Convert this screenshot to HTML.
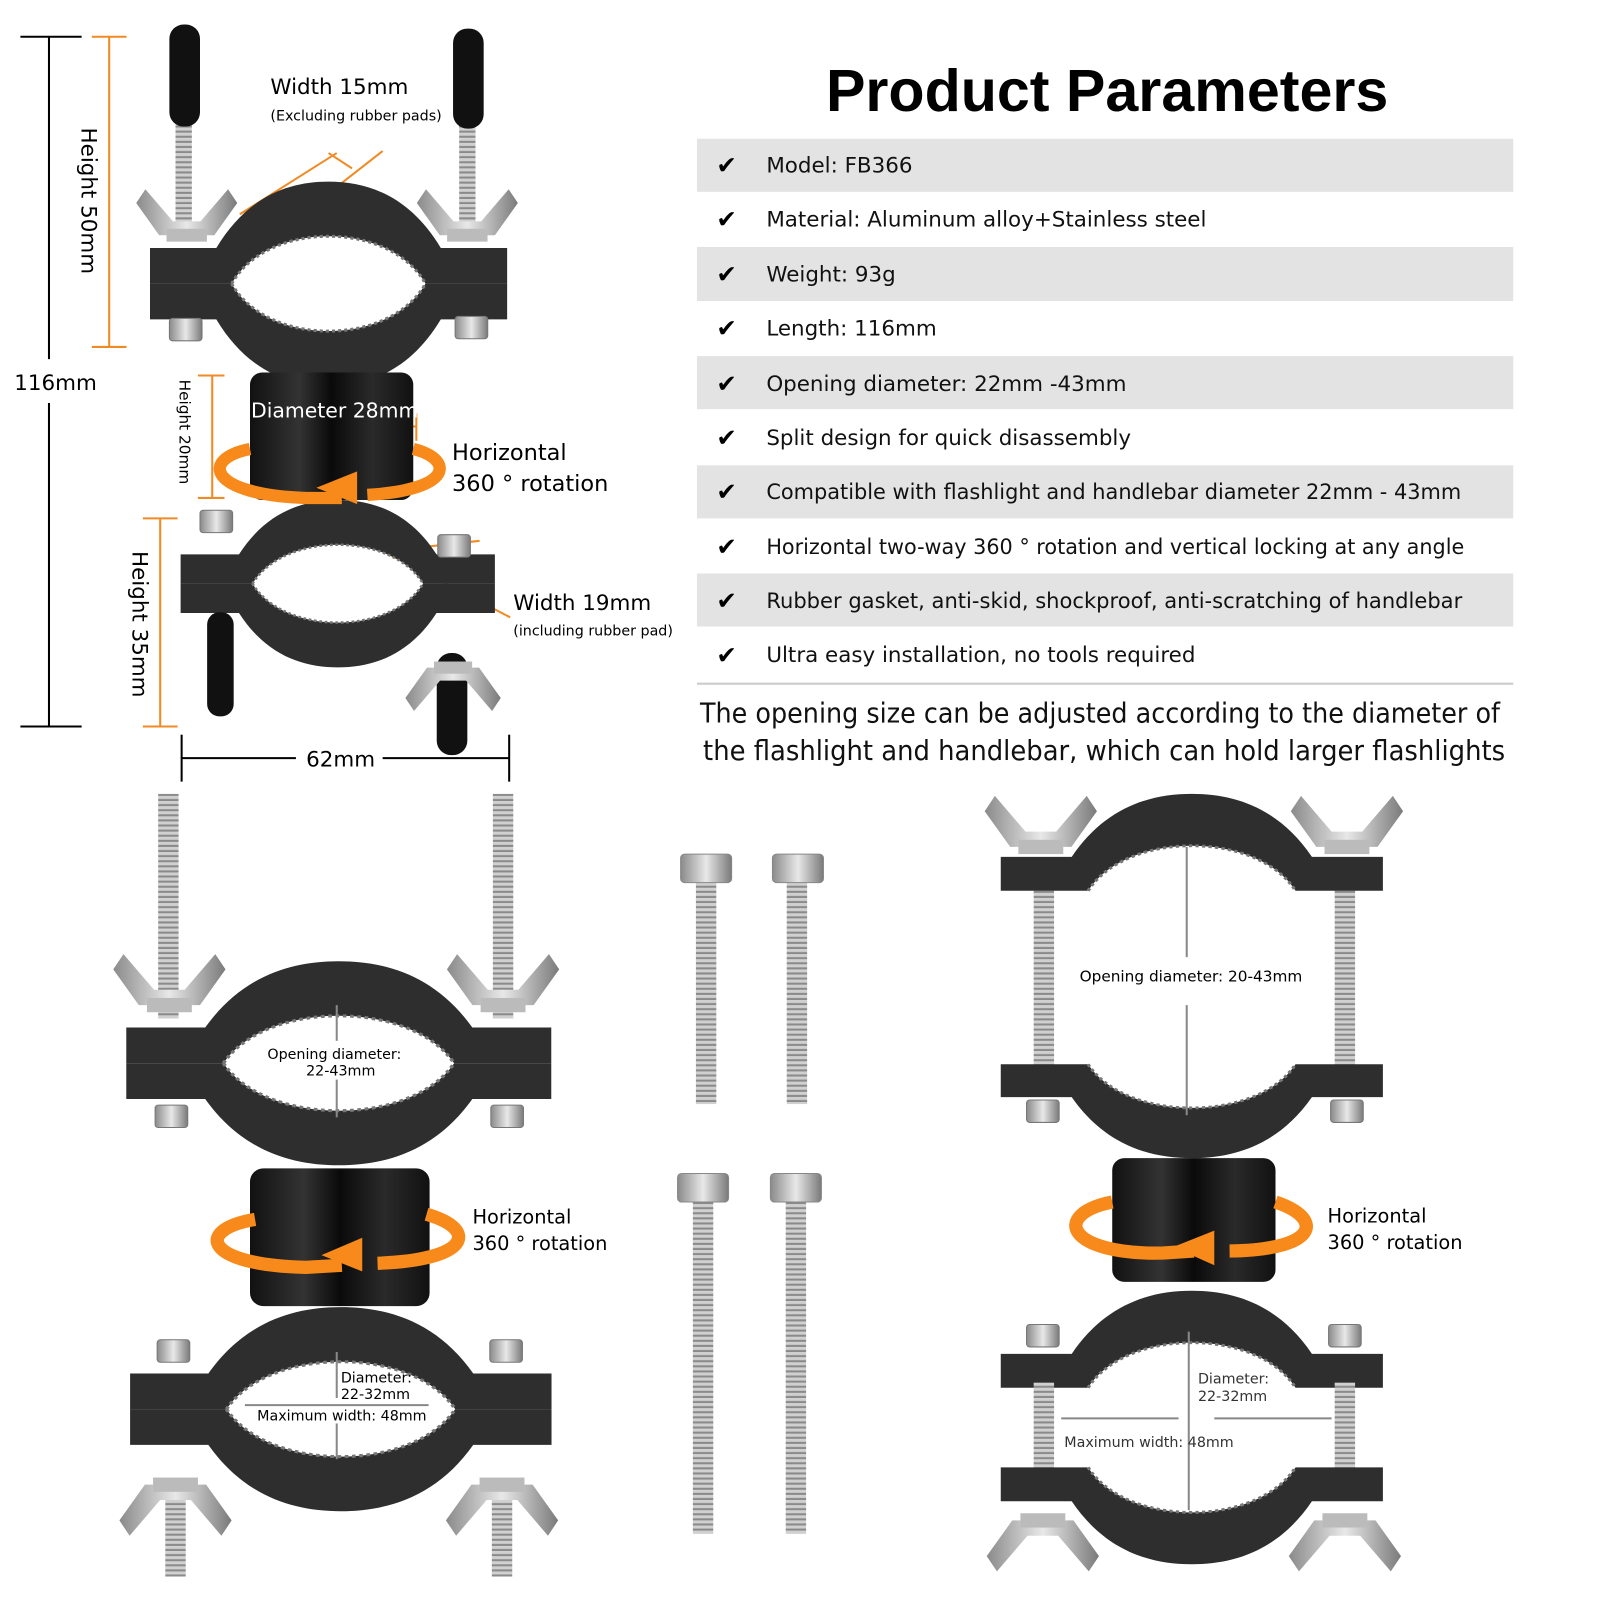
<!DOCTYPE html>
<html><head><meta charset="utf-8"><style>
html,body{margin:0;padding:0;background:#fff;}
svg{display:block;}
text{font-family:"DejaVu Sans","Liberation Sans",sans-serif;}
.lib{font-family:"Liberation Sans",sans-serif;}
</style></head><body>
<svg width="1600" height="1600" viewBox="0 0 1600 1600" xmlns="http://www.w3.org/2000/svg">
<defs>
<linearGradient id="met" x1="0" x2="1"><stop offset="0" stop-color="#8a8a8a"/><stop offset=".5" stop-color="#e8e8e8"/><stop offset="1" stop-color="#7a7a7a"/></linearGradient>
<pattern id="thr" width="8" height="5" patternUnits="userSpaceOnUse"><rect width="8" height="5" fill="#d0d0d0"/><rect y="3" width="8" height="2" fill="#8a8a8a"/></pattern>
<linearGradient id="cyl" x1="0" x2="1"><stop offset="0" stop-color="#111"/><stop offset=".3" stop-color="#333"/><stop offset=".5" stop-color="#0a0a0a"/><stop offset=".75" stop-color="#2a2a2a"/><stop offset="1" stop-color="#111"/></linearGradient>
<g id="up"><path fill-rule="evenodd" fill="#2e2e2e" d="M-175,-35 L-110,-35 C-80,-85 -40,-100 0,-100 C40,-100 80,-85 110,-35 L175,-35 L175,0 L-175,0 Z M-95,0 C-60,-62 60,-62 95,0 Z"/><path fill="none" stroke="#777" stroke-width="3" stroke-dasharray="3 3" d="M-95,0 C-60,-62 60,-62 95,0"/></g>
<g id="lo"><path fill-rule="evenodd" fill="#2e2e2e" d="M-175,35 L-110,35 C-80,85 -40,100 0,100 C40,100 80,85 110,35 L175,35 L175,0 L-175,0 Z M-95,0 C-60,62 60,62 95,0 Z"/><path fill="none" stroke="#777" stroke-width="3" stroke-dasharray="3 3" d="M-95,0 C-60,62 60,62 95,0"/></g>
<g id="wing"><path fill="url(#met)" d="M-55,-40 L-45,-55 L-15,-20 L15,-20 L45,-55 L55,-40 L30,-5 L-30,-5 Z"/><rect x="-22" y="-12" width="44" height="14" fill="#bbb"/></g>
<g id="head"><rect x="-16" y="0" width="32" height="22" rx="3" fill="url(#met)" stroke="#777"/></g>
<g id="cylA"><rect x="-80" y="0" width="160" height="125" rx="12" fill="url(#cyl)"/></g>
</defs>
<g transform="scale(1.0204)">
<!-- Title & table -->
<text class="lib" x="1085" y="109" font-size="58" font-weight="bold" text-anchor="middle" fill="#000">Product Parameters</text>
<g fill="#e3e3e3">
<rect x="683" y="136" width="800" height="52"/><rect x="683" y="242" width="800" height="53"/><rect x="683" y="349" width="800" height="52"/><rect x="683" y="456" width="800" height="52"/><rect x="683" y="562" width="800" height="52"/>
</g>
<line x1="683" y1="670" x2="1483" y2="670" stroke="#ccc" stroke-width="2"/>
<g font-size="21" fill="#111">
<text x="751" y="169">Model: FB366</text>
<text x="751" y="222">Material: Aluminum alloy+Stainless steel</text>
<text x="751" y="276">Weight: 93g</text>
<text x="751" y="329">Length: 116mm</text>
<text x="751" y="383">Opening diameter: 22mm -43mm</text>
<text x="751" y="436">Split design for quick disassembly</text>
<text x="751" y="489" textLength="681" lengthAdjust="spacingAndGlyphs">Compatible with flashlight and handlebar diameter 22mm - 43mm</text>
<text x="751" y="543" textLength="684" lengthAdjust="spacingAndGlyphs">Horizontal two-way 360 ° rotation and vertical locking at any angle</text>
<text x="751" y="596" textLength="682" lengthAdjust="spacingAndGlyphs">Rubber gasket, anti-skid, shockproof, anti-scratching of handlebar</text>
<text x="751" y="649">Ultra easy installation, no tools required</text>
</g>
<g font-size="24" fill="#000" font-weight="bold">
<text x="702" y="170">✔</text><text x="702" y="223">✔</text><text x="702" y="277">✔</text><text x="702" y="330">✔</text><text x="702" y="384">✔</text><text x="702" y="437">✔</text><text x="702" y="490">✔</text><text x="702" y="544">✔</text><text x="702" y="597">✔</text><text x="702" y="650">✔</text>
</g>
<g font-size="27" fill="#111">
<text x="686" y="708" textLength="784" lengthAdjust="spacingAndGlyphs">The opening size can be adjusted according to the diameter of</text>
<text x="689" y="745" textLength="786" lengthAdjust="spacingAndGlyphs">the flashlight and handlebar, which can hold larger flashlights</text>
</g>

<!-- Top-left dimension lines -->
<g stroke="#000" stroke-width="2" fill="none">
<line x1="20" y1="36" x2="80" y2="36"/><line x1="48" y1="36" x2="48" y2="352"/><line x1="48" y1="395" x2="48" y2="712"/><line x1="20" y1="712" x2="80" y2="712"/>
<line x1="178" y1="720" x2="178" y2="766"/><line x1="499" y1="720" x2="499" y2="766"/><line x1="178" y1="743" x2="290" y2="743"/><line x1="375" y1="743" x2="499" y2="743"/>
</g>
<text x="14" y="382" font-size="21">116mm</text>
<text x="300" y="751" font-size="21">62mm</text>
<g stroke="#f08a24" stroke-width="2" fill="none">
<line x1="90" y1="36" x2="124" y2="36"/><line x1="107" y1="36" x2="107" y2="340"/><line x1="90" y1="340" x2="124" y2="340"/>
<line x1="194" y1="368" x2="220" y2="368"/><line x1="208" y1="368" x2="208" y2="488"/><line x1="194" y1="488" x2="220" y2="488"/>
<line x1="140" y1="508" x2="174" y2="508"/><line x1="157" y1="508" x2="157" y2="712"/><line x1="140" y1="712" x2="174" y2="712"/>
<line x1="235" y1="210" x2="330" y2="150"/><line x1="270" y1="230" x2="375" y2="148"/><line x1="322" y1="150" x2="345" y2="165"/>
<line x1="360" y1="532" x2="500" y2="605"/><line x1="380" y1="540" x2="470" y2="530"/>
<line x1="246" y1="418" x2="408" y2="418"/><line x1="246" y1="405" x2="246" y2="432"/><line x1="408" y1="405" x2="408" y2="432"/>
</g>
<text transform="translate(80,125) rotate(90)" font-size="21">Height 50mm</text>
<text transform="translate(176,372) rotate(90)" font-size="15">Height 20mm</text>
<text transform="translate(130,540) rotate(90)" font-size="21">Height 35mm</text>
<text x="265" y="92" font-size="21">Width 15mm</text>
<text x="265" y="118" font-size="14">(Excluding rubber pads)</text>
<text x="503" y="598" font-size="21">Width 19mm</text>
<text x="503" y="623" font-size="14">(including rubber pad)</text>

<!-- Top-left assembly -->
<rect x="172" y="60" width="16" height="170" fill="url(#thr)"/><rect x="166" y="24" width="30" height="100" rx="14" fill="#111"/>
<rect x="450" y="60" width="16" height="170" fill="url(#thr)"/><rect x="444" y="28" width="30" height="98" rx="14" fill="#111"/>
<use href="#wing" transform="translate(183,235) scale(0.9)"/><use href="#wing" transform="translate(458,235) scale(0.9)"/>
<use href="#up" transform="translate(322,278)"/><use href="#lo" transform="translate(322,278)"/>
<use href="#head" transform="translate(182,312)"/><use href="#head" transform="translate(462,310)"/>
<use href="#cylA" transform="translate(325,365)"/>
<use href="#up" transform="translate(331,572) scale(0.88,0.82)"/><use href="#lo" transform="translate(331,572) scale(0.88,0.82)"/>
<use href="#head" transform="translate(212,500)"/><use href="#head" transform="translate(445,524)"/>
<rect x="203" y="600" width="26" height="102" rx="12" fill="#111"/><rect x="428" y="640" width="30" height="100" rx="14" fill="#111"/>
<use href="#wing" transform="translate(444,650) scale(0.85,-0.85)"/>
<text x="246" y="409" font-size="20" fill="#fff">Diameter 28mm</text>
<path d="M245,440 C195,450 205,485 300,488 L335,488" fill="none" stroke="#f78a1a" stroke-width="12"/>
<path d="M405,440 C445,450 445,480 360,485" fill="none" stroke="#f78a1a" stroke-width="12"/>
<path d="M310,478 L350,462 L350,494 Z" fill="#f78a1a"/>
<text x="443" y="451" font-size="22">Horizontal</text>
<text x="443" y="481" font-size="22">360 ° rotation</text>

<!-- Bottom-left assembly -->
<rect x="155" y="778" width="20" height="220" fill="url(#thr)"/><rect x="483" y="778" width="20" height="220" fill="url(#thr)"/>
<use href="#wing" transform="translate(166,990)"/><use href="#wing" transform="translate(493,990)"/>
<use href="#up" transform="translate(332,1042) scale(1.19,1)"/><use href="#lo" transform="translate(332,1042) scale(1.19,1)"/>
<use href="#head" transform="translate(168,1083)"/><use href="#head" transform="translate(497,1083)"/>
<use href="#cylA" transform="translate(333,1145) scale(1.1,1.08)"/>
<use href="#up" transform="translate(334,1381) scale(1.18,1)"/><use href="#lo" transform="translate(334,1381) scale(1.18,1)"/>
<use href="#head" transform="translate(170,1313)"/><use href="#head" transform="translate(496,1313)"/>
<rect x="162" y="1450" width="20" height="95" fill="url(#thr)"/><rect x="482" y="1450" width="20" height="95" fill="url(#thr)"/>
<use href="#wing" transform="translate(172,1450) scale(1,-1)"/><use href="#wing" transform="translate(492,1450) scale(1,-1)"/>
<g stroke="#888" stroke-width="2"><line x1="330" y1="985" x2="330" y2="1020"/><line x1="330" y1="1058" x2="330" y2="1095"/><line x1="330" y1="1325" x2="330" y2="1370"/><line x1="330" y1="1395" x2="330" y2="1430"/><line x1="240" y1="1377" x2="420" y2="1377"/></g>
<text x="262" y="1038" font-size="14">Opening diameter:</text><text x="300" y="1054" font-size="14">22-43mm</text>
<text x="334" y="1355" font-size="14">Diameter:</text><text x="334" y="1371" font-size="14">22-32mm</text>
<text x="252" y="1392" font-size="14">Maximum width:  48mm</text>
<path d="M250,1195 C190,1205 200,1240 300,1242 L335,1240" fill="none" stroke="#f78a1a" stroke-width="13"/>
<path d="M418,1190 C470,1205 460,1235 370,1238" fill="none" stroke="#f78a1a" stroke-width="13"/>
<path d="M315,1230 L355,1213 L355,1246 Z" fill="#f78a1a"/>
<text x="463" y="1199" font-size="19">Horizontal</text><text x="463" y="1225" font-size="19">360 ° rotation</text>

<!-- Middle bolts -->
<g>
<rect x="682" y="860" width="20" height="222" fill="url(#thr)"/><rect x="667" y="837" width="50" height="28" rx="4" fill="url(#met)" stroke="#888"/>
<rect x="771" y="860" width="20" height="222" fill="url(#thr)"/><rect x="757" y="837" width="50" height="28" rx="4" fill="url(#met)" stroke="#888"/>
<rect x="679" y="1175" width="20" height="328" fill="url(#thr)"/><rect x="664" y="1150" width="50" height="28" rx="4" fill="url(#met)" stroke="#888"/>
<rect x="770" y="1175" width="20" height="328" fill="url(#thr)"/><rect x="755" y="1150" width="50" height="28" rx="4" fill="url(#met)" stroke="#888"/>
</g>

<!-- Right assembly -->
<rect x="1013" y="870" width="20" height="180" fill="url(#thr)"/><rect x="1308" y="870" width="20" height="180" fill="url(#thr)"/>
<use href="#wing" transform="translate(1020,835)"/><use href="#wing" transform="translate(1320,835)"/>
<use href="#up" transform="translate(1168,873) scale(1.07,0.95)"/>
<use href="#lo" transform="translate(1168,1043) scale(1.07,0.92)"/>
<use href="#head" transform="translate(1022,1078)"/><use href="#head" transform="translate(1320,1078)"/>
<use href="#cylA" transform="translate(1170,1135) scale(1,0.97)"/>
<use href="#up" transform="translate(1168,1360) scale(1.07,0.95)"/>
<rect x="1013" y="1355" width="20" height="90" fill="url(#thr)"/><rect x="1308" y="1355" width="20" height="90" fill="url(#thr)"/>
<use href="#head" transform="translate(1022,1298)"/><use href="#head" transform="translate(1318,1298)"/>
<use href="#lo" transform="translate(1168,1438) scale(1.07,0.95)"/>
<use href="#wing" transform="translate(1022,1485) scale(1,-1)"/><use href="#wing" transform="translate(1318,1485) scale(1,-1)"/>
<g stroke="#888" stroke-width="2"><line x1="1163" y1="830" x2="1163" y2="938"/><line x1="1163" y1="985" x2="1163" y2="1093"/><line x1="1165" y1="1305" x2="1165" y2="1480"/><line x1="1040" y1="1390" x2="1155" y2="1390"/><line x1="1190" y1="1390" x2="1305" y2="1390"/></g>
<text x="1058" y="962" font-size="15">Opening diameter:  20-43mm</text>
<text x="1174" y="1356" font-size="14" fill="#333">Diameter:</text><text x="1174" y="1373" font-size="14" fill="#333">22-32mm</text>
<text x="1043" y="1418" font-size="14" fill="#333">Maximum width:  48mm</text>
<path d="M1090,1178 C1030,1190 1045,1230 1140,1228 L1170,1226" fill="none" stroke="#f78a1a" stroke-width="13"/>
<path d="M1250,1178 C1300,1195 1290,1225 1205,1226" fill="none" stroke="#f78a1a" stroke-width="13"/>
<path d="M1150,1222 L1190,1206 L1190,1240 Z" fill="#f78a1a"/>
<text x="1301" y="1198" font-size="19">Horizontal</text><text x="1301" y="1224" font-size="19">360 ° rotation</text>
</g>
</svg>
</body></html>
